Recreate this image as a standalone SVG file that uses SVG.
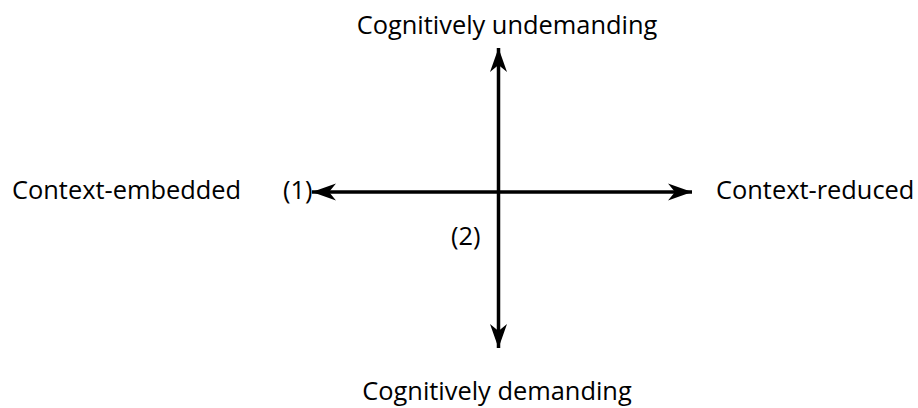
<svg xmlns="http://www.w3.org/2000/svg" width="918" height="408" viewBox="0 0 918 408">
<style>
text{font-family:"Open Sans","Noto Sans",sans-serif;font-size:25.4px;fill:#000}
.ax{stroke:#000;stroke-width:3.5;fill:none}
</style>
<defs>
<marker id="stealth" viewBox="-26 -10 28 20" refX="0" refY="0" markerUnits="userSpaceOnUse" markerWidth="28" markerHeight="20" orient="auto-start-reverse">
<path d="M0,0 L-24,-8.5 L-17,0 L-24,8.5 Z" fill="#000"/>
</marker>
</defs>
<rect width="918" height="408" fill="#fff"/>
<g id="connectors">
<line class="ax" x1="312" y1="192" x2="692" y2="192" marker-start="url(#stealth)" marker-end="url(#stealth)"/>
<line class="ax" x1="498.5" y1="48" x2="498.5" y2="348" marker-start="url(#stealth)" marker-end="url(#stealth)"/>
</g>
<g id="top"><text x="507" y="34" text-anchor="middle">Cognitively undemanding</text></g>
<g id="bottom"><text x="497" y="400" text-anchor="middle">Cognitively demanding</text></g>
<g id="left"><text x="12" y="199">Context-embedded</text></g>
<g id="right"><text x="716" y="199">Context-reduced</text></g>
<g id="label1"><text x="283" y="199">(1)</text></g>
<g id="label2"><text x="451" y="245">(2)</text></g>
</svg>
